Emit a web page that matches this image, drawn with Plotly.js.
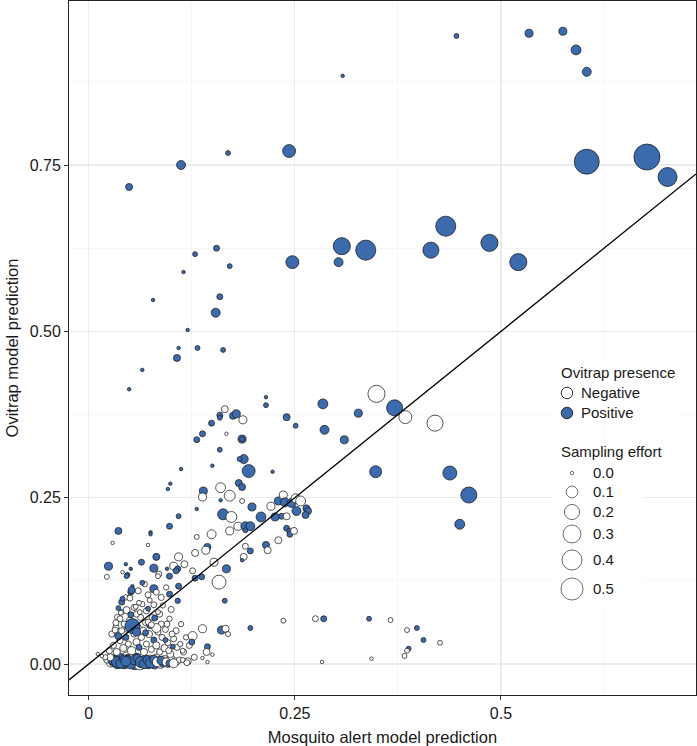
<!DOCTYPE html>
<html><head><meta charset="utf-8">
<script src="https://cdn.plot.ly/plotly-3.0.1.min.js"></script>
<style>html,body{margin:0;padding:0;background:#fff}#chart{width:697px;height:746px}</style>
</head><body><div id="chart"></div>
<script>
// ---------- DATA ----------
// dense band of sites near zero ovitrap prediction
const bandAlert = [0.027,0.030,0.031,0.035,0.037,0.040,0.042,0.044,0.046,0.048,
 0.050,0.052,0.054,0.056,0.058,0.060,0.062,0.064,0.066,0.068,
 0.070,0.072,0.074,0.076,0.078,0.080,0.082,0.085,0.087,0.090,
 0.092,0.096,0.100,0.105,0.110,0.022,0.120,0.128,0.038,0.058,
 0.033,0.029,0.034,0.039,0.043,0.047,0.051,0.055,0.059,0.063,
 0.067,0.071,0.075,0.079,0.083,0.088,0.094,0.098,0.026,0.045];
const bandOvitrap = [0.002,0.004,0.009,0.001,0.004,0.006,0.000,0.002,0.012,0.008,
 0.005,0.003,0.009,0.000,0.003,0.005,0.000,0.002,0.010,0.007,
 0.004,0.001,0.008,0.004,0.002,0.000,0.009,0.005,0.001,0.002,
 0.006,0.002,0.008,0.003,0.006,0.006,0.004,0.010,0.010,0.011,
 0.008,0.006,0.003,0.001,0.007,0.004,0.000,0.006,0.008,0.003,
 0.000,0.006,0.002,0.007,0.003,0.005,0.003,0.001,0.010,0.004];
const bandEffort = [0.04,0.06,0.02,0.08,0.06,0.05,0.05,0.10,0.03,0.04,
 0.08,0.07,0.03,0.09,0.06,0.05,0.10,0.06,0.03,0.03,
 0.05,0.08,0.02,0.05,0.07,0.06,0.03,0.03,0.06,0.04,
 0.04,0.05,0.02,0.03,0.01,0.01,0.02,0.01,0.03,0.02,
 0.02,0.05,0.07,0.06,0.04,0.09,0.06,0.05,0.04,0.08,
 0.05,0.04,0.07,0.03,0.05,0.04,0.03,0.02,0.02,0.06];
const bandPresence = [0,1,0,1,0,1,0,1,0,1,
 0,1,0,1,0,1,0,1,0,1,
 0,1,0,1,0,1,0,1,0,1,
 0,0,0,0,0,0,0,0,1,1,
 1,1,1,1,1,1,1,1,1,1,
 1,1,1,1,0,1,0,1,0,1];

// low-value cluster
const clusterAlert = [0.025,0.030,0.034,0.038,0.042,0.045,0.048,0.052,0.055,0.058,
 0.061,0.064,0.067,0.070,0.073,0.076,0.079,0.082,0.086,0.089,
 0.092,0.096,0.099,0.103,0.107,0.111,0.115,0.118,0.122,0.028,
 0.033,0.036,0.040,0.043,0.047,0.050,0.060,0.063,0.066,0.069,
 0.074,0.077,0.084,0.088,0.093,0.098,0.106,0.112,0.035,0.040,
 0.055,0.058,0.065,0.070,0.086,0.090,0.100,0.108,0.045,0.060,
 0.068,0.088,0.094,0.020,0.016];
const clusterOvitrap = [0.020,0.028,0.018,0.035,0.024,0.040,0.030,0.020,0.045,0.033,
 0.025,0.040,0.018,0.030,0.045,0.022,0.036,0.028,0.018,0.040,
 0.024,0.032,0.015,0.038,0.025,0.030,0.018,0.040,0.028,0.045,
 0.055,0.042,0.050,0.060,0.052,0.065,0.055,0.070,0.050,0.062,
 0.058,0.070,0.048,0.060,0.052,0.068,0.050,0.060,0.070,0.078,
 0.085,0.075,0.090,0.080,0.075,0.088,0.082,0.095,0.100,0.110,
 0.120,0.100,0.115,0.010,0.012];
const clusterEffort = [0.01,0.01,0.02,0.01,0.02,0.01,0.01,0.03,0.01,0.02,
 0.01,0.01,0.02,0.01,0.02,0.01,0.01,0.02,0.01,0.01,
 0.02,0.01,0.02,0.01,0.01,0.005,0.01,0.005,0.01,0.01,
 0.01,0.02,0.01,0.01,0.01,0.02,0.01,0.01,0.02,0.01,
 0.01,0.01,0.01,0.01,0.01,0.005,0.01,0.005,0.01,0.005,
 0.01,0.01,0.005,0.01,0.01,0.005,0.01,0.005,0.005,0.01,
 0.005,0.01,0.005,0.005,0];
const clusterPresence = [0,0,0,0,0,1,0,0,0,0,
 1,0,0,0,0,0,1,0,0,0,
 0,0,0,0,0,0,0,0,0,0,
 0,1,0,0,0,0,0,0,0,0,
 1,0,0,0,0,0,0,0,0,0,
 0,0,0,0,0,0,0,1,0,0,
 0,0,0,0,0];

// mid-range sites right of the diagonal
const midAlert = [0.349,0.371,0.384,0.420,0.327,0.310,0.348,0.438,0.461,0.450];
const midOvitrap = [0.406,0.385,0.371,0.362,0.377,0.337,0.289,0.287,0.254,0.210];
const midEffort = [0.27,0.23,0.13,0.23,0.03,0.03,0.105,0.16,0.23,0.06];
const midPresence = [0,1,0,0,1,1,1,1,1,1];

// remaining sites
const mainAlert = [0.446,0.534,0.575,0.591,0.604,0.308,0.604,0.677,0.702,0.243,
 0.169,0.112,0.049,0.433,0.307,0.336,0.303,0.415,0.486,0.521,
 0.247,0.155,0.129,0.115,0.171,0.159,0.154,0.078,0.120,0.132,
 0.109,0.163,0.107,0.065,0.049,0.215,0.215,0.165,0.159,0.159,
 0.175,0.179,0.187,0.149,0.240,0.251,0.284,0.286,0.167,0.138,
 0.131,0.186,0.186,0.159,0.188,0.183,0.194,0.112,0.150,0.223,
 0.099,0.096,0.182,0.186,0.160,0.171,0.139,0.138,0.160,0.186,
 0.198,0.131,0.109,0.163,0.173,0.181,0.190,0.196,0.190,0.171,
 0.149,0.209,0.221,0.226,0.230,0.236,0.238,0.234,0.240,0.246,
 0.251,0.257,0.252,0.264,0.266,0.263,0.240,0.243,0.244,0.249,
 0.230,0.131,0.072,0.036,0.029,0.075,0.075,0.098,0.144,0.142,
 0.190,0.215,0.217,0.196,0.188,0.186,0.129,0.109,0.082,0.064,
 0.024,0.045,0.051,0.041,0.047,0.079,0.085,0.095,0.103,0.108,
 0.106,0.116,0.126,0.152,0.167,0.022,0.158,0.129,0.137,0.236,
 0.275,0.285,0.340,0.366,0.386,0.398,0.406,0.426,0.388,0.386,
 0.383,0.283,0.343,0.046,0.098,0.109,0.084,0.051,0.065,0.053,
 0.079,0.082,0.050,0.052,0.072,0.074,0.098,0.061,0.079,0.040,
 0.041,0.036,0.039,0.046,0.051,0.057,0.062,0.072,0.084,0.080,
 0.072,0.082,0.076,0.053,0.058,0.038,0.033,0.032,0.069,0.095,
 0.093,0.101,0.126,0.125,0.138,0.161,0.166,0.169,0.196,0.165,
 0.102,0.097,0.114,0.144,0.143,0.138,0.150,0.144,0.114,0.119,
 0.103,0.011];
const mainOvitrap = [0.944,0.948,0.951,0.923,0.890,0.884,0.755,0.762,0.732,0.771,
 0.768,0.750,0.717,0.658,0.628,0.622,0.604,0.622,0.633,0.604,
 0.604,0.625,0.616,0.589,0.598,0.552,0.528,0.547,0.502,0.475,
 0.475,0.472,0.460,0.442,0.413,0.401,0.389,0.383,0.374,0.370,
 0.373,0.376,0.367,0.362,0.371,0.358,0.391,0.352,0.346,0.346,
 0.337,0.338,0.338,0.322,0.308,0.308,0.290,0.293,0.298,0.289,
 0.271,0.263,0.272,0.266,0.265,0.253,0.260,0.251,0.246,0.245,
 0.236,0.233,0.222,0.225,0.221,0.207,0.207,0.207,0.201,0.200,
 0.195,0.221,0.237,0.221,0.245,0.254,0.243,0.222,0.222,0.242,
 0.249,0.245,0.230,0.234,0.230,0.224,0.204,0.200,0.195,0.200,
 0.186,0.191,0.179,0.200,0.182,0.198,0.195,0.207,0.176,0.171,
 0.177,0.179,0.171,0.170,0.161,0.156,0.167,0.161,0.161,0.153,
 0.147,0.150,0.143,0.138,0.134,0.144,0.135,0.143,0.147,0.143,
 0.140,0.150,0.140,0.153,0.143,0.131,0.123,0.129,0.131,0.065,
 0.068,0.068,0.068,0.066,0.051,0.054,0.036,0.032,0.023,0.020,
 0.012,0.003,0.008,0.132,0.132,0.117,0.132,0.108,0.122,0.117,
 0.113,0.108,0.099,0.111,0.104,0.096,0.105,0.092,0.089,0.093,
 0.098,0.084,0.077,0.081,0.074,0.086,0.078,0.083,0.078,0.069,
 0.063,0.054,0.059,0.057,0.048,0.068,0.062,0.051,0.047,0.060,
 0.036,0.045,0.042,0.033,0.053,0.051,0.053,0.045,0.054,0.095,
 0.026,0.020,0.020,0.026,0.018,0.009,0.014,0.003,0.006,0.002,
 0.001,0.015];
const mainEffort = [0.003,0.03,0.03,0.06,0.044,0,0.67,0.74,0.35,0.13,
 0.003,0.044,0.018,0.40,0.27,0.40,0.044,0.23,0.27,0.27,
 0.13,0.009,0.003,0,0.003,0.009,0.044,0,0,0.003,
 0,0.003,0.018,0,0,0,0.003,0.018,0.009,0.003,
 0.018,0.03,0.03,0.009,0.018,0.003,0.06,0.044,0,0.009,
 0.009,0.03,0.003,0.003,0.044,0.003,0.13,0,0,0,
 0,0,0.018,0.018,0.06,0.08,0.03,0.03,0,0.003,
 0.03,0,0.003,0.08,0.08,0.03,0.044,0.044,0.003,0.03,
 0.044,0.06,0.03,0.03,0.03,0.03,0.044,0.009,0.018,0.044,
 0.044,0.06,0.044,0.018,0.018,0.018,0.009,0.003,0.009,0.018,
 0.018,0.003,0,0.018,0,0,0,0.009,0.018,0.03,
 0.009,0.018,0.018,0.009,0.018,0,0.018,0.03,0.018,0.009,
 0.03,0,0,0,0.003,0.03,0.009,0,0.03,0.009,
 0.009,0.018,0.009,0.03,0.03,0.003,0.16,0.009,0.009,0.003,
 0.009,0.009,0.003,0.003,0.003,0.003,0.003,0.003,0.003,0.003,
 0.003,0,0,0.003,0.009,0.009,0.003,0.009,0.003,0,
 0.03,0.009,0.009,0.018,0.009,0.003,0.009,0.003,0.009,0.009,
 0.003,0.003,0.003,0.018,0.009,0.003,0.003,0.003,0.003,0.009,
 0.009,0.044,0.009,0.19,0.03,0.009,0.009,0.009,0.009,0.009,
 0.003,0.009,0.044,0.009,0.03,0.03,0.018,0.003,0.003,0.003,
 0.003,0.009,0.003,0.009,0.018,0,0,0,0.003,0.009,
 0.044,0];
const mainPresence = [1,1,1,1,1,1,1,1,1,1,
 1,1,1,1,1,1,1,1,1,1,
 1,1,1,1,1,1,1,1,1,1,
 1,1,1,1,1,1,1,0,1,1,
 1,1,0,1,1,1,1,1,0,1,
 1,1,1,1,1,1,1,1,1,1,
 1,1,1,1,0,0,1,0,1,0,
 1,1,1,1,0,0,1,1,1,0,
 0,1,0,1,1,0,1,1,0,1,
 0,0,1,1,1,1,1,1,1,0,
 0,0,0,1,0,1,1,1,1,0,
 0,1,0,1,0,1,0,0,1,1,
 1,1,1,0,1,1,0,1,0,1,
 1,0,0,0,1,0,0,1,1,0,
 0,1,1,0,0,1,1,0,1,0,
 0,0,0,1,1,1,0,1,1,1,
 1,0,0,1,0,0,1,0,0,1,
 1,1,0,0,1,0,0,1,0,1,
 0,0,0,1,1,0,0,0,1,0,
 1,0,0,1,0,1,0,0,1,1,
 1,0,0,1,0,0,0,0,0,0,
 0,0];

const xRange = [-0.0239, 0.7365];
const yRange = [-0.0466, 0.9965];
const xTickVals = [0, 0.25, 0.5];
const xTickText = ['0', '0.25', '0.5'];
const yTickVals = [0, 0.25, 0.5, 0.75];
const yTickText = ['0.00', '0.25', '0.50', '0.75'];
const presenceLabels = ['Negative', 'Positive'];
const effortLevels = [0, 0.1, 0.2, 0.3, 0.4, 0.5];
const effortLabels = ['0.0', '0.1', '0.2', '0.3', '0.4', '0.5'];

// ---------- STYLE / SCALES ----------
const BLUE = '#3B6AAD';
const OUTLINE = '#1c1c1c';
const sizeOf = e => 3.5 + 26.2 * Math.sqrt(e);
const fillOf = p => p ? BLUE : '#ffffff';

const allX = bandAlert.concat(clusterAlert, midAlert, mainAlert);
const allY = bandOvitrap.concat(clusterOvitrap, midOvitrap, mainOvitrap);
const allE = bandEffort.concat(clusterEffort, midEffort, mainEffort);
const allP = bandPresence.concat(clusterPresence, midPresence, mainPresence);

// legend placement (in legend-axis pixel units)
const presRowsY = [212, 192];
const effRowsY = [132, 113, 93, 71, 45, 16];

const font = 'Liberation Sans, Arial, Helvetica, sans-serif';
const txt = '#1a1a1a';

const traces = [
  {
    type: 'scatter', mode: 'markers', x: allX, y: allY,
    xaxis: 'x', yaxis: 'y', hoverinfo: 'skip',
    marker: { size: allE.map(sizeOf), color: allP.map(fillOf),
              line: { color: OUTLINE, width: 0.75 }, opacity: 1 }
  },
  {
    type: 'scatter', mode: 'lines', x: xRange, y: xRange,
    xaxis: 'x', yaxis: 'y', hoverinfo: 'skip',
    line: { color: '#000', width: 1.3 }
  },
  {
    type: 'scatter', mode: 'markers', x: presenceLabels.map(() => 15), y: presRowsY,
    xaxis: 'x2', yaxis: 'y2', hoverinfo: 'skip', cliponaxis: false,
    marker: { size: 11.5, color: [0, 1].map(fillOf), line: { color: OUTLINE, width: 0.9 } }
  },
  {
    type: 'scatter', mode: 'markers', x: effortLevels.map(() => 20), y: effRowsY,
    xaxis: 'x2', yaxis: 'y2', hoverinfo: 'skip', cliponaxis: false,
    marker: { size: effortLevels.map(sizeOf), color: '#ffffff', line: { color: OUTLINE, width: 0.9 } }
  }
];

const annotations = [
  { text: 'Ovitrap presence', x: 7, y: 232 },
  { text: 'Sampling effort', x: 7, y: 153 }
].concat(
  presenceLabels.map((t, i) => ({ text: t, x: 27, y: presRowsY[i] })),
  effortLabels.map((t, i) => ({ text: t, x: 39, y: effRowsY[i] }))
).map(a => Object.assign({
  xref: 'x2', yref: 'y2', xanchor: 'left', yanchor: 'middle', showarrow: false,
  font: { family: font, size: 15, color: txt }
}, a));

const axisCommon = {
  ticks: 'outside', ticklen: 4, tickwidth: 1, tickcolor: '#333',
  showline: true, linecolor: '#222', linewidth: 1, mirror: true,
  showgrid: true, gridcolor: '#ebebeb', gridwidth: 1.1, zeroline: false,
  tickfont: { family: font, size: 16, color: txt },
  fixedrange: true
};

const layout = {
  width: 697, height: 746,
  margin: { l: 69, r: 1, t: 1, b: 51 },
  paper_bgcolor: '#ffffff', plot_bgcolor: 'rgba(255,255,255,0)',
  showlegend: false,
  font: { family: font, color: txt },
  xaxis: Object.assign({}, axisCommon, {
    range: xRange, tickvals: xTickVals, ticktext: xTickText,
    minor: { tickvals: [0.125, 0.375, 0.625], showgrid: true, gridcolor: '#f2f2f2', gridwidth: 0.6, ticks: '' },
    title: { text: 'Mosquito alert model prediction', font: { family: font, size: 16.5, color: txt }, standoff: 10 }
  }),
  yaxis: Object.assign({}, axisCommon, {
    range: yRange, tickvals: yTickVals, ticktext: yTickText,
    minor: { tickvals: [0.125, 0.375, 0.625, 0.875], showgrid: true, gridcolor: '#f2f2f2', gridwidth: 0.6, ticks: '' },
    title: { text: 'Ovitrap model prediction', font: { family: font, size: 16.5, color: txt }, standoff: 6 }
  }),
  xaxis2: { domain: [0.7703, 0.9745], range: [0, 128], visible: false, anchor: 'y2', fixedrange: true },
  yaxis2: { domain: [0.1297, 0.4784], range: [0, 242], visible: false, anchor: 'x2', fixedrange: true },
  shapes: [
    { type: 'rect', xref: 'x2', yref: 'y2', x0: 0, x1: 128, y0: 178, y1: 242, fillcolor: '#ffffff', line: { width: 0 }, layer: 'below' },
    { type: 'rect', xref: 'x2', yref: 'y2', x0: 0, x1: 91, y0: 0, y1: 162, fillcolor: '#ffffff', line: { width: 0 }, layer: 'below' }
  ],
  annotations: annotations
};

Plotly.newPlot('chart', traces, layout, { displayModeBar: false, staticPlot: true });
</script>
</body></html>
